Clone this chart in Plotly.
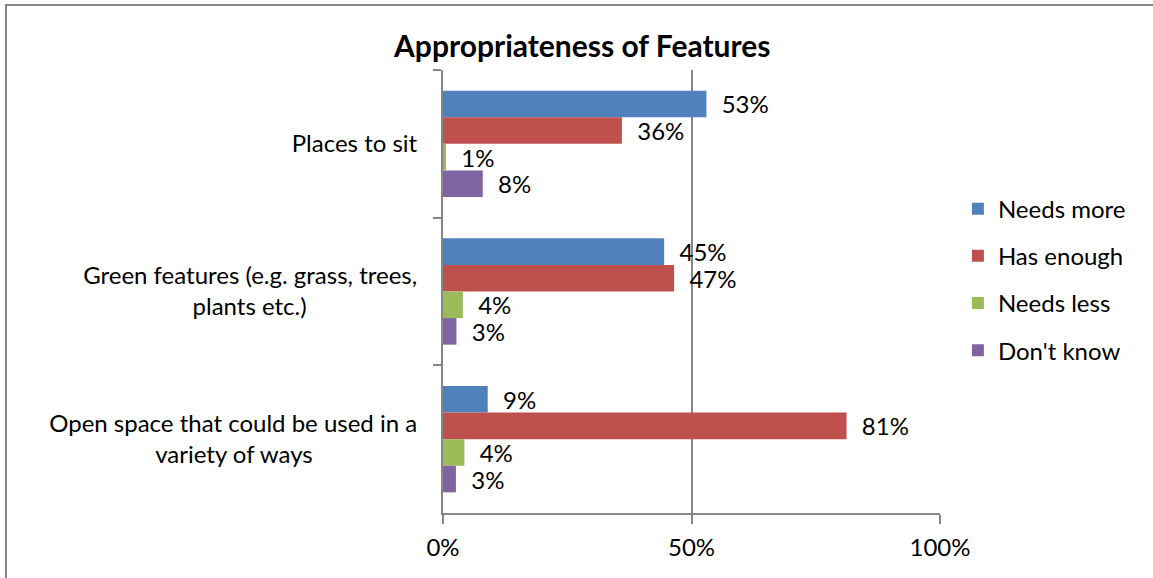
import plotly.graph_objects as go

NB = "\u00a0"
categories = [
    "Places to sit",
    "Green features (e.g. grass, trees,<br>plants etc.)" + NB * 18,
    "Open space that could be used in a<br>variety of ways" + NB * 17,
]
series_names = ["Needs more", "Has enough", "Needs less", "Don't know"]
needs_more = [0.53, 0.445, 0.09]
has_enough = [0.36, 0.465, 0.812]
needs_less = [0.006, 0.04, 0.043]
dont_know = [0.08, 0.027, 0.026]
colors = ["#4F81BD", "#C0504D", "#9BBB59", "#8064A2"]
x_ticks = [0, 0.5, 1.0]
x_tick_labels = ["0%", "50%", "100%"]

FONT = "Lato"
FS = 24
values = [needs_more, has_enough, needs_less, dont_know]

fig = go.Figure()
for name, vals, col in zip(series_names, values, colors):
    fig.add_trace(go.Bar(
        y=categories, x=vals, name=name, orientation="h",
        marker=dict(color=col, line=dict(width=0)),
        texttemplate=NB * 2 + "%{x:.0%}", textposition="outside",
        textfont=dict(family=FONT, size=FS, color="#000000"),
        constraintext="none", cliponaxis=False,
        legendgroup=name, hoverinfo="skip",
    ))

fig.update_layout(
    width=1153, height=578,
    margin=dict(l=443, r=213, t=70, b=65),
    paper_bgcolor="white", plot_bgcolor="white",
    barmode="group", bargap=0.28, bargroupgap=0,
    font=dict(family=FONT, size=FS, color="#000000"),
    title=dict(text="<b>Appropriateness of Features</b>", x=0.505, xref="container",
               xanchor="center", y=1 - 46 / 578, yref="container", yanchor="middle",
               font=dict(family=FONT, size=30, color="#000000")),
    legend=dict(x=1.036, xanchor="left", y=0.527, yanchor="middle",
                tracegroupgap=13, traceorder="grouped",
                font=dict(family=FONT, size=FS, color="#000000")),
)
fig.update_xaxes(
    range=[0, 1], tickvals=x_ticks, ticktext=x_tick_labels,
    showgrid=True, gridcolor="#868686", gridwidth=1.5,
    zeroline=False, showline=True, linecolor="#868686", linewidth=2,
    ticks="outside", ticklen=9, tickcolor="#868686", tickwidth=2,
    ticklabelstandoff=3,
    tickfont=dict(family=FONT, size=FS, color="#000000"),
)
fig.update_yaxes(
    autorange="reversed", showgrid=False, zeroline=False,
    showline=True, linecolor="#868686", linewidth=2,
    ticks="outside", tickson="boundaries", ticklen=8, tickcolor="#868686", tickwidth=2,
    ticklabelstandoff=19,
    tickfont=dict(family=FONT, size=FS, color="#000000"),
)
# outer chart border (left and top visible; right/bottom cropped in reference)
fig.add_shape(type="rect", xref="paper", yref="paper",
              x0=(6 - 443) / 497, x1=1.6, y0=-0.5, y1=(513 - 5) / 443,
              line=dict(color="#868686", width=2), fillcolor="rgba(0,0,0,0)", layer="below")

fig.write_html("out.html", config={"displayModeBar": False},
               post_script="document.body.style.margin='0';document.body.style.padding='0';")
